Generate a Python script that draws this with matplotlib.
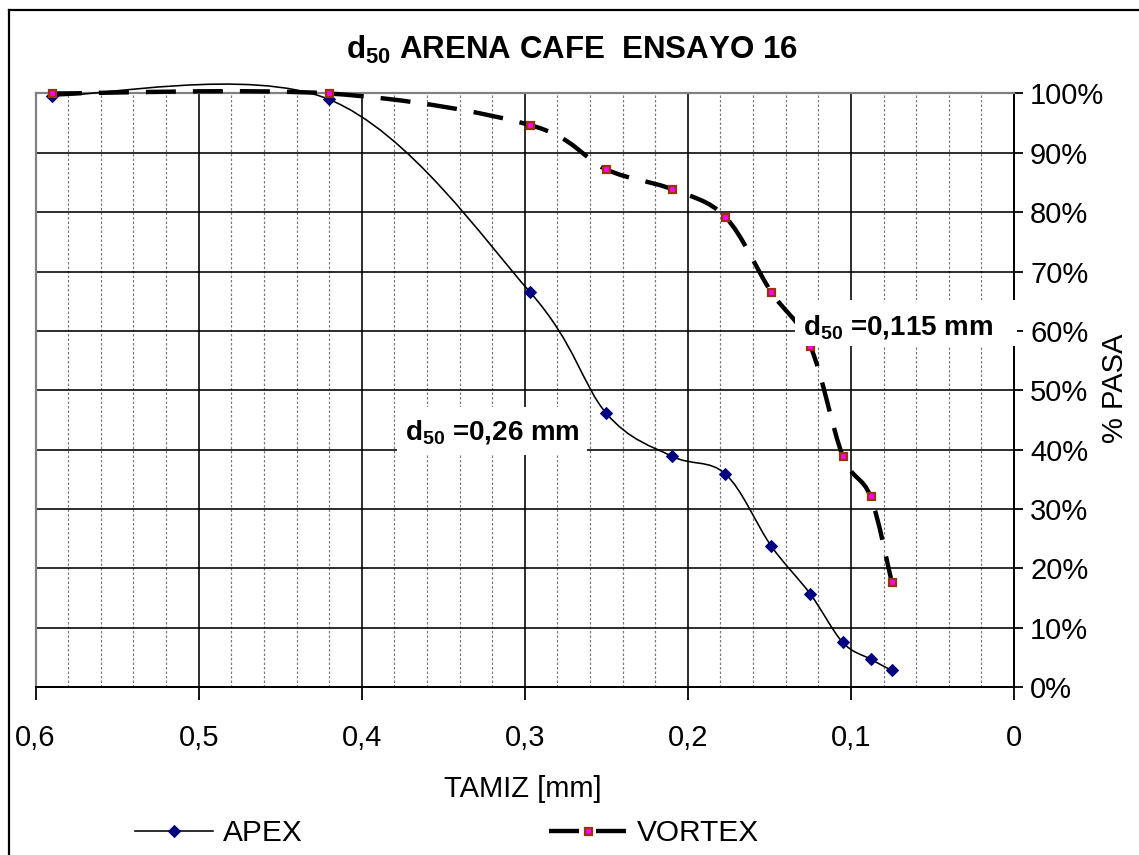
import numpy as np
import matplotlib
matplotlib.use("Agg")
import matplotlib.pyplot as plt
from matplotlib.lines import Line2D
from matplotlib.patches import Rectangle, PathPatch
from matplotlib.path import Path
from matplotlib.ticker import MultipleLocator, FixedLocator

# ---- data -------------------------------------------------------------
tamiz_mm = [0.59, 0.42, 0.297, 0.25, 0.21, 0.177, 0.149, 0.125, 0.105, 0.088, 0.075]
apex_pasa = [99.6, 99.0, 66.6, 46.1, 38.9, 35.9, 23.8, 15.7, 7.5, 4.7, 2.8]
vortex_pasa = [100.0, 100.0, 94.7, 87.2, 83.9, 79.2, 66.6, 57.5, 38.9, 32.1, 17.7]
series_names = ["APEX", "VORTEX"]
d50_labels = ["0,26", "0,115"]
x_ticks = [0.6, 0.5, 0.4, 0.3, 0.2, 0.1, 0.0]
x_tick_labels = ["0,6", "0,5", "0,4", "0,3", "0,2", "0,1", "0"]
y_ticks = [0, 10, 20, 30, 40, 50, 60, 70, 80, 90, 100]
y_tick_labels = [f"{v}%" for v in y_ticks]

# ---- style ------------------------------------------------------------
plt.rcParams["font.family"] = ["Liberation Sans", "DejaVu Sans"]
plt.rcParams["mathtext.fontset"] = "custom"
plt.rcParams["mathtext.rm"] = "Liberation Sans"
plt.rcParams["mathtext.bf"] = "Liberation Sans:bold"
plt.rcParams["mathtext.it"] = "Liberation Sans:italic"
plt.rcParams["lines.scale_dashes"] = False

W, H = 1139, 855
DPI = 100
PX = 72.0 / DPI  # points per pixel
FS = 21
FS_TITLE = 22.5
FS_NOTE = 20
FS_LEGEND = 21.5

fig = plt.figure(figsize=(W / DPI, H / DPI), dpi=DPI)
fig.patch.set_facecolor("white")


def fx(px):
    return px / W


def fy(py):
    return 1 - py / H


left, right, top, bottom = 35.6, 1014, 93.5, 687
ax = fig.add_axes([fx(left), fy(bottom), fx(right) - fx(left), fy(top) - fy(bottom)])
ax.set_xlim(0.6, 0.0)
ax.set_ylim(0, 100)

# grid
ax.xaxis.set_major_locator(FixedLocator(x_ticks))
ax.xaxis.set_minor_locator(MultipleLocator(0.02))
ax.yaxis.set_major_locator(FixedLocator(y_ticks))
ax.grid(which="major", axis="both", color="black", linewidth=1.6 * PX, zorder=1)
ax.grid(which="minor", axis="x", color="#7a7a7a", linewidth=1.2 * PX,
        linestyle=(0, (2.5 * PX, 2 * PX)), zorder=1)
ax.set_axisbelow(True)

for side in ("top", "left"):
    ax.spines[side].set_color("#808080")
    ax.spines[side].set_linewidth(2.2 * PX)
for side in ("bottom", "right"):
    ax.spines[side].set_color("black")
    ax.spines[side].set_linewidth(2.0 * PX)

ax.set_xticklabels(x_tick_labels, fontsize=FS)
ax.tick_params(axis="x", which="major", direction="out", length=13 * PX,
               width=1.8 * PX, pad=24 * PX)
ax.tick_params(axis="x", which="minor", length=0)
ax.yaxis.tick_right()
ax.set_yticklabels(y_tick_labels, fontsize=FS)
ax.tick_params(axis="y", which="major", direction="out", length=9 * PX,
               width=1.8 * PX, pad=7 * PX)


# smoothed curve through the measured points
def smooth_path(xs, ys):
    pts = np.column_stack([xs, ys]).astype(float)
    n = len(pts)
    verts = [pts[0]]
    codes = [Path.MOVETO]
    for i in range(n - 1):
        p0 = pts[i - 1] if i > 0 else pts[i]
        p1 = pts[i]
        p2 = pts[i + 1]
        p3 = pts[i + 2] if i + 2 < n else pts[i + 1]
        verts += [p1 + (p2 - p0) / 6.0, p2 - (p3 - p1) / 6.0, p2]
        codes += [Path.CURVE4] * 3
    return Path(verts, codes)


apex_patch = PathPatch(smooth_path(tamiz_mm, apex_pasa), fill=False,
                       edgecolor="black", linewidth=1.6 * PX, zorder=3,
                       clip_on=False)
ax.add_patch(apex_patch)
vortex_dash = (0, (30 * PX, 17 * PX))
vortex_patch = PathPatch(smooth_path(tamiz_mm, vortex_pasa), fill=False,
                         edgecolor="black", linewidth=4.4 * PX,
                         linestyle=vortex_dash, zorder=3, clip_on=False)
vortex_patch.set_capstyle("butt")
ax.add_patch(vortex_patch)

apex_marker = dict(marker="D", markersize=9 * PX, markerfacecolor="#000080",
                   markeredgecolor="#000080", markeredgewidth=1.0 * PX)
vortex_marker = dict(marker="s", markersize=7 * PX, markerfacecolor="#FF00FF",
                     markeredgecolor="#993300", markeredgewidth=2.2 * PX)
ax.plot(tamiz_mm, apex_pasa, linestyle="none", zorder=4, clip_on=False, **apex_marker)
ax.plot(tamiz_mm, vortex_pasa, linestyle="none", zorder=4, clip_on=False, **vortex_marker)

# outer chart frame
fig.add_artist(Line2D([fx(9), fx(9)], [fy(10), fy(H + 5)], color="black",
                      linewidth=2.2 * PX))
fig.add_artist(Line2D([fx(9), fx(W + 5)], [fy(10), fy(10)], color="black",
                      linewidth=2.2 * PX))

# title and axis titles
fig.text(fx(572), fy(50), r"$\mathbf{d_{50}}$ ARENA CAFE  ENSAYO 16",
         fontsize=FS_TITLE, fontweight="bold", ha="center", va="center")
fig.text(fx(1115), fy(388), "% PASA", fontsize=FS, rotation=90,
         ha="center", va="center")
fig.text(fx(523), fy(789), "TAMIZ [mm]", fontsize=FS, ha="center", va="center")

# d50 callouts
callouts = [
    ((397, 407, 587, 455), (492, 432), d50_labels[0]),
    ((795, 300, 1016.5, 346), (898, 327), d50_labels[1]),
]
for (x0, y0, x1, y1), (tx, ty), val in callouts:
    fig.add_artist(Rectangle((fx(x0), fy(y1)), fx(x1) - fx(x0), fy(y0) - fy(y1),
                             facecolor="white", edgecolor="none", zorder=5))
    fig.text(fx(tx), fy(ty), r"$\mathbf{d_{50}}$ =" + val + " mm", fontsize=FS_NOTE,
             fontweight="bold", ha="center", va="center", zorder=6)

# legend
handles = [
    Line2D([], [], color="black", linewidth=1.6 * PX, **apex_marker),
    Line2D([], [], color="black", linewidth=4.4 * PX, linestyle=vortex_dash,
           dash_capstyle="butt", **vortex_marker),
]
fig.legend(handles, series_names, loc="center left",
           bbox_to_anchor=(fx(135), fy(833)), ncol=2, frameon=False,
           fontsize=FS_LEGEND, handlelength=2.61, handletextpad=0.33,
           columnspacing=8.27, borderpad=0, borderaxespad=0)

fig.savefig("out.png", dpi=DPI, facecolor="white")
